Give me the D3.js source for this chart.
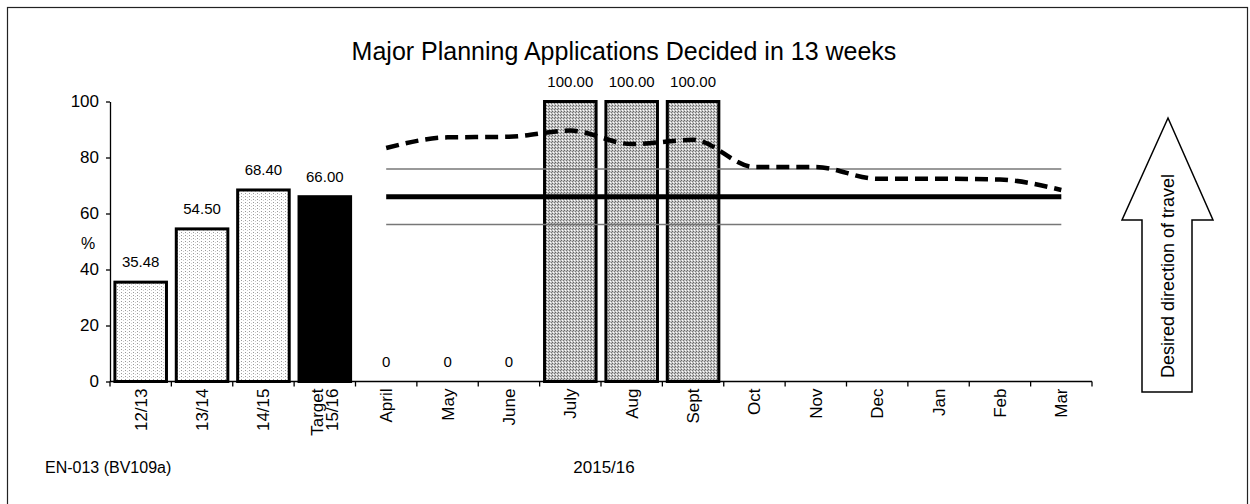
<!DOCTYPE html>
<html>
<head>
<meta charset="utf-8">
<title>Major Planning Applications Decided in 13 weeks</title>
<script src="https://d3js.org/d3.v7.min.js"></script>
<style>
  body { margin: 0; background: #fff; }
  svg { display: block; font-family: "Liberation Sans", Arial, sans-serif; }
</style>
</head>
<body>
<svg width="1250" height="504"></svg>
<script>

// categories along the x axis
var categories = ["12/13", "13/14", "14/15", "Target 15/16", "April", "May", "June",
                  "July", "Aug", "Sept", "Oct", "Nov", "Dec", "Jan", "Feb", "Mar"];

// bar values (null = no bar / no label)
var barValues = [35.48, 54.50, 68.40, 66.00, 0, 0, 0, 100, 100, 100,
                 null, null, null, null, null, null];
var barLabels = ["35.48", "54.50", "68.40", "66.00", "0", "0", "0", "100.00", "100.00", "100.00",
                 "", "", "", "", "", ""];
var barStyle = ["light", "light", "light", "target", "none", "none", "none", "grey", "grey", "grey",
                "none", "none", "none", "none", "none", "none"];

// cumulative year-to-date (dashed) line, April..Mar
var months = ["April", "May", "June", "July", "Aug", "Sept", "Oct", "Nov", "Dec", "Jan", "Feb", "Mar"];
var ytdValues = [83.4, 87.2, 87.4, 89.6, 84.8, 86.3, 76.6, 76.6, 72.4, 72.4, 72.1, 68.4];

// target and tolerance bands
var target = 66;
var upperBand = 75.9;
var lowerBand = 56.1;

var yTicks = [0, 20, 40, 60, 80, 100];

var svg = d3.select("svg");

// outer frame
svg.append("rect")
    .attr("x", 7.5).attr("y", 7.5)
    .attr("width", 1240).attr("height", 520)
    .attr("fill", "none").attr("stroke", "#222").attr("stroke-width", 1.2);

// fill patterns to imitate the stipple of the original
var defs = svg.append("defs");
var pl = defs.append("pattern").attr("id", "light").attr("patternUnits", "userSpaceOnUse")
    .attr("width", 4).attr("height", 3);
pl.append("rect").attr("width", 4).attr("height", 3).attr("fill", "#fff");
pl.append("rect").attr("x", 1).attr("y", 1).attr("width", 1).attr("height", 1).attr("fill", "#999");
pl.append("rect").attr("x", 3).attr("y", 2).attr("width", 1).attr("height", 1).attr("fill", "#ccc");

var pg = defs.append("pattern").attr("id", "grey").attr("patternUnits", "userSpaceOnUse")
    .attr("width", 3).attr("height", 3);
pg.append("rect").attr("width", 3).attr("height", 3).attr("fill", "#c4c4c4");
pg.append("rect").attr("x", 0).attr("y", 0).attr("width", 1).attr("height", 1).attr("fill", "#666");
pg.append("rect").attr("x", 2).attr("y", 1).attr("width", 1).attr("height", 1).attr("fill", "#777");
pg.append("rect").attr("x", 1).attr("y", 2).attr("width", 1).attr("height", 1).attr("fill", "#fff");

var x = d3.scaleBand()
    .domain(categories)
    .range([110, 1092])
    .paddingInner(0.16)
    .paddingOuter(0.08);

var y = d3.scaleLinear()
    .domain([0, 100])
    .range([381.5, 101.5]);

// title
svg.append("text")
    .attr("x", 624).attr("y", 60)
    .attr("text-anchor", "middle")
    .attr("font-size", 25)
    .text("Major Planning Applications Decided in 13 weeks");

// bars
svg.selectAll(".bar")
    .data(categories.filter(function(c, i) { return barValues[i] > 0; }))
  .enter().append("rect")
    .attr("class", "bar")
    .attr("x", function(c) { return x(c); })
    .attr("y", function(c) { return y(barValues[categories.indexOf(c)]); })
    .attr("width", x.bandwidth())
    .attr("height", function(c) { return y(0) - y(barValues[categories.indexOf(c)]); })
    .attr("fill", function(c) {
        var s = barStyle[categories.indexOf(c)];
        return s == "target" ? "#000" : "url(#" + s + ")";
    })
    .attr("stroke", "#000")
    .attr("stroke-width", 3);

// bar labels
svg.selectAll(".blabel")
    .data(categories.filter(function(c, i) { return barValues[i] != null; }))
  .enter().append("text")
    .attr("class", "blabel")
    .attr("x", function(c) { return x(c) + x.bandwidth() / 2; })
    .attr("y", function(c) { return y(barValues[categories.indexOf(c)]) - 15; })
    .attr("text-anchor", "middle")
    .attr("font-size", 15)
    .text(function(c) { return barLabels[categories.indexOf(c)]; });

var cx = function(c) { return x(c) + x.bandwidth() / 2; };
var first = cx(months[0]), last = cx(months[months.length - 1]);

// tolerance bands
[upperBand, lowerBand].forEach(function(v) {
    svg.append("line")
        .attr("x1", first).attr("x2", last)
        .attr("y1", y(v)).attr("y2", y(v))
        .attr("stroke", "#777").attr("stroke-width", 1.5);
});

// target line
svg.append("line")
    .attr("x1", first).attr("x2", last)
    .attr("y1", y(target)).attr("y2", y(target))
    .attr("stroke", "#000").attr("stroke-width", 5);

// year to date dashed line
var line = d3.line()
    .x(function(d, i) { return cx(months[i]); })
    .y(function(d) { return y(d); })
    .curve(d3.curveMonotoneX);

svg.append("path")
    .attr("d", line(ytdValues))
    .attr("fill", "none")
    .attr("stroke", "#000")
    .attr("stroke-width", 4.5)
    .attr("stroke-dasharray", "13,7");

// y axis
var yAxis = svg.append("g")
    .attr("transform", "translate(110,0)")
    .call(d3.axisLeft(y).tickValues(yTicks).tickSize(4).tickSizeOuter(0));
yAxis.selectAll("text").attr("font-size", 17).attr("fill", "#000")
    .attr("font-family", "Liberation Sans, Arial, sans-serif").attr("dx", -4);
yAxis.selectAll("line, path").attr("stroke", "#000").attr("stroke-width", 1.3);

svg.append("text")
    .attr("x", 88).attr("y", 249)
    .attr("text-anchor", "middle")
    .attr("font-size", 16)
    .text("%");

// x axis line and boundary ticks
svg.append("line")
    .attr("x1", 110).attr("x2", 1092)
    .attr("y1", y(0)).attr("y2", y(0))
    .attr("stroke", "#000").attr("stroke-width", 1.5);

svg.selectAll(".xtick")
    .data(d3.range(categories.length + 1))
  .enter().append("line")
    .attr("class", "xtick")
    .attr("x1", function(i) { return 110 + i * x.step(); })
    .attr("x2", function(i) { return 110 + i * x.step(); })
    .attr("y1", y(0)).attr("y2", y(0) + 5)
    .attr("stroke", "#000").attr("stroke-width", 1.3);

// x labels, rotated
categories.forEach(function(c) {
    var parts = c.split(" ");
    var t = svg.append("text")
        .attr("transform", "translate(" + (cx(c) + 6) + "," + (y(0) + 7) + ") rotate(-90)")
        .attr("text-anchor", "end")
        .attr("font-size", 17);
    parts.forEach(function(p, k) {
        t.append("tspan")
            .attr("x", 0)
            .attr("dy", k == 0 ? (parts.length > 1 ? -8 : 0) : 15)
            .text(p);
    });
});

// footer texts
svg.append("text")
    .attr("x", 45).attr("y", 473)
    .attr("font-size", 16)
    .text("EN-013 (BV109a)");

svg.append("text")
    .attr("x", 604).attr("y", 473)
    .attr("text-anchor", "middle")
    .attr("font-size", 17)
    .text("2015/16");

// direction arrow
var arrow = [[1168, 118], [1213, 220], [1192, 220], [1192, 392],
             [1142, 392], [1142, 220], [1122, 220]];
svg.append("polygon")
    .attr("points", arrow.map(function(p) { return p.join(","); }).join(" "))
    .attr("fill", "#fff").attr("stroke", "#000").attr("stroke-width", 1.5);

svg.append("text")
    .attr("transform", "translate(1174,276) rotate(-90)")
    .attr("text-anchor", "middle")
    .attr("font-size", 18)
    .text("Desired direction of travel");

</script>
</body>
</html>
